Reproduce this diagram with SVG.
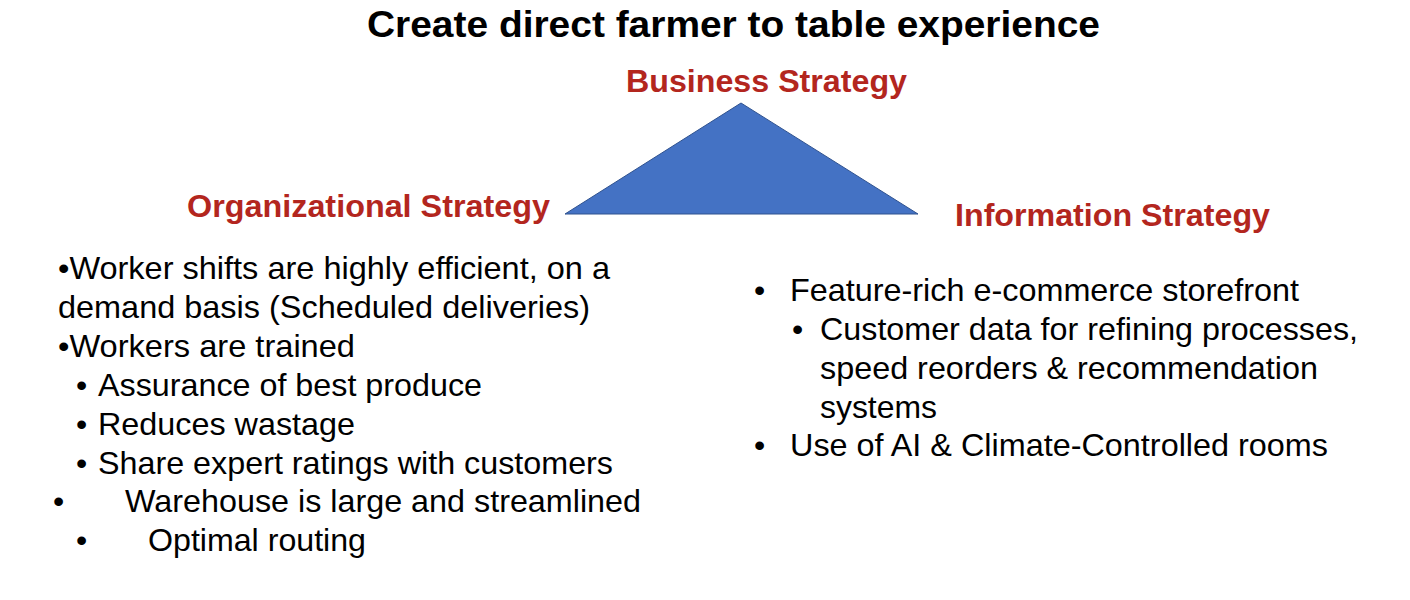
<svg xmlns="http://www.w3.org/2000/svg" width="1410" height="600" viewBox="0 0 1410 600">
  <style>
    text { font-family: "Liberation Sans", Arial, Helvetica, sans-serif; }
    .title { font-size: 36px; font-weight: bold; fill: #000; }
    .head { font-size: 31px; font-weight: bold; fill: #B3261E; }
    .body { font-size: 32px; fill: #000; }
  </style>
  <rect width="1410" height="600" fill="#ffffff"/>

  <text class="title" x="367" y="37" textLength="733" lengthAdjust="spacingAndGlyphs">Create direct farmer to table experience</text>

  <g id="business-strategy">
    <text class="head" x="626" y="92" textLength="281" lengthAdjust="spacingAndGlyphs">Business Strategy</text>
  </g>

  <g id="strategy-triangle">
    <polygon points="741,103 565,214 918,214" fill="#4472C4" stroke="#2F528F" stroke-width="1"/>
  </g>

  <g id="organizational-strategy">
    <text class="head" x="187" y="217" textLength="363" lengthAdjust="spacingAndGlyphs">Organizational Strategy</text>
    <g class="body-text">
      <text class="body" x="58" y="279" textLength="552" lengthAdjust="spacingAndGlyphs">•Worker shifts are highly efficient, on a</text>
      <text class="body" x="58" y="318" textLength="532" lengthAdjust="spacingAndGlyphs">demand basis (Scheduled deliveries)</text>
      <text class="body" x="58" y="357" textLength="297" lengthAdjust="spacingAndGlyphs">•Workers are trained</text>
      <text class="body" x="76" y="396">•</text>
      <text class="body" x="98" y="396" textLength="384" lengthAdjust="spacingAndGlyphs">Assurance of best produce</text>
      <text class="body" x="76" y="435">•</text>
      <text class="body" x="98" y="435" textLength="257" lengthAdjust="spacingAndGlyphs">Reduces wastage</text>
      <text class="body" x="76" y="474">•</text>
      <text class="body" x="98" y="474" textLength="515" lengthAdjust="spacingAndGlyphs">Share expert ratings with customers</text>
      <text class="body" x="53" y="512">•</text>
      <text class="body" x="125" y="512" textLength="516" lengthAdjust="spacingAndGlyphs">Warehouse is large and streamlined</text>
      <text class="body" x="76" y="551">•</text>
      <text class="body" x="148" y="551" textLength="218" lengthAdjust="spacingAndGlyphs">Optimal routing</text>
    </g>
  </g>

  <g id="information-strategy">
    <text class="head" x="955" y="226" textLength="315" lengthAdjust="spacingAndGlyphs">Information Strategy</text>
    <g class="body-text">
      <text class="body" x="754" y="301">•</text>
      <text class="body" x="790" y="301" textLength="509" lengthAdjust="spacingAndGlyphs">Feature-rich e-commerce storefront</text>
      <text class="body" x="792" y="340">•</text>
      <text class="body" x="820" y="340" textLength="538" lengthAdjust="spacingAndGlyphs">Customer data for refining processes,</text>
      <text class="body" x="820" y="379" textLength="498" lengthAdjust="spacingAndGlyphs">speed reorders &amp; recommendation</text>
      <text class="body" x="820" y="418" textLength="117" lengthAdjust="spacingAndGlyphs">systems</text>
      <text class="body" x="754" y="456">•</text>
      <text class="body" x="790" y="456" textLength="538" lengthAdjust="spacingAndGlyphs">Use of AI &amp; Climate-Controlled rooms</text>
    </g>
  </g>

  <g id="connectors"></g>
</svg>
